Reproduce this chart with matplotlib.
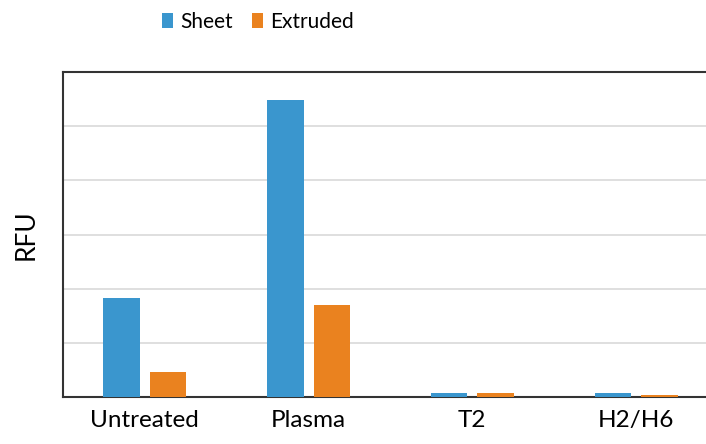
import matplotlib.pyplot as plt
import numpy as np

plt.rcParams['font.family'] = ['Lato', 'DejaVu Sans']

categorias = ["Untreated", "Plasma", "T2", "H2/H6"]
series = ["Sheet", "Extruded"]
sheet = [1.83, 5.48, 0.065, 0.065]
extruded = [0.46, 1.70, 0.065, 0.03]
colores = ["#3A96CE", "#EA821F"]

x = np.arange(len(categorias))
ancho = 0.223
desplaz = 0.142

fig = plt.figure(figsize=(7.06, 4.44), dpi=100)
# el area de trazado se sale por la derecha, como en la original
ax = fig.add_axes([63 / 706, 47 / 444, 655 / 706, 325 / 444])

ax.bar(x - desplaz, sheet, ancho, color=colores[0], label=series[0], zorder=3)
ax.bar(x + desplaz, extruded, ancho, color=colores[1], label=series[1], zorder=3)

ax.set_xlim(-0.5, 3.5)
ax.set_ylim(0, 6)
ax.set_yticks(np.arange(0, 7, 1))
ax.set_yticklabels([])
ax.tick_params(axis="y", length=0)
ax.tick_params(axis="x", length=0, labelsize=17.5, pad=9)
ax.set_xticks(x)
ax.set_xticklabels(categorias)
ax.grid(axis="y", color="#D9D9D9", linewidth=1.2, zorder=0)

for lado in ["left", "top", "bottom", "right"]:
    ax.spines[lado].set_color("#333333")
    ax.spines[lado].set_linewidth(1.5)

ax.set_ylabel("RFU", fontsize=19, labelpad=14)

fig.legend(loc="center", bbox_to_anchor=(258 / 706, 1 - 22 / 444), ncol=2, frameon=False,
           fontsize=15, handlelength=0.55, handleheight=0.7, handletextpad=0.35,
           columnspacing=0.9)

fig.savefig("out.png", dpi=100)
